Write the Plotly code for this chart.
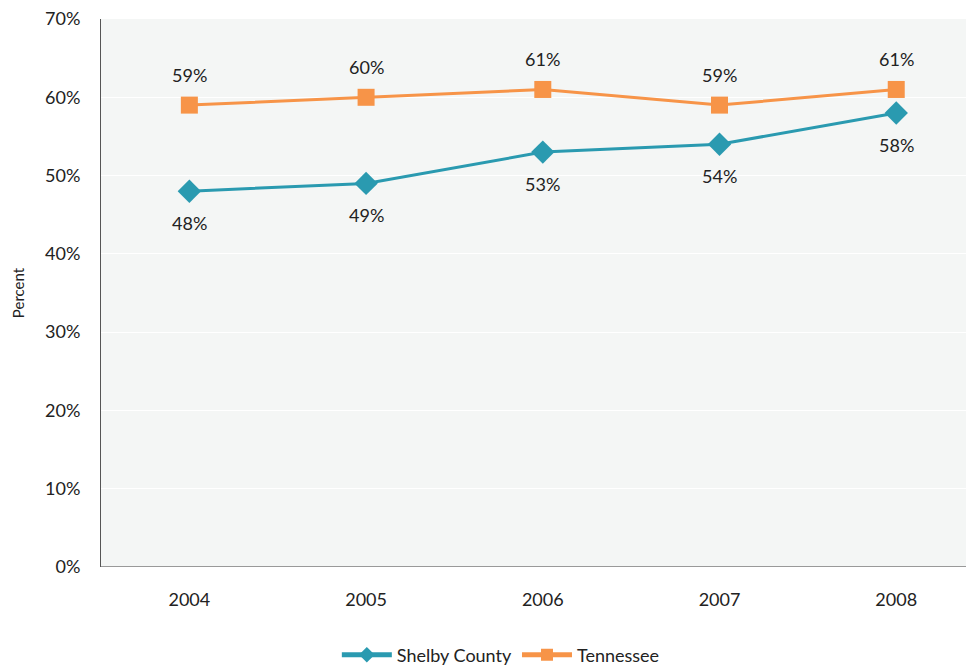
import plotly.graph_objects as go

years = ["2004", "2005", "2006", "2007", "2008"]
shelby = [48, 49, 53, 54, 58]
tennessee = [59, 60, 61, 59, 61]
y_ticks = [0, 10, 20, 30, 40, 50, 60, 70]
y_tick_labels = [f"{v}%" for v in y_ticks]

teal = "#2a9ab0"
orange = "#f79448"
font_family = "Lato, 'Noto Sans', sans-serif"

fig = go.Figure()
fig.add_trace(go.Scatter(
    x=years, y=shelby, name="Shelby County", mode="lines+markers",
    line=dict(color=teal, width=3),
    marker=dict(symbol="diamond", size=18, color=teal),
))
fig.add_trace(go.Scatter(
    x=years, y=tennessee, name="Tennessee", mode="lines+markers",
    line=dict(color=orange, width=3),
    marker=dict(symbol="square", size=17, color=orange),
))

for i, v in enumerate(shelby):
    fig.add_annotation(x=i, y=v, text=f"{v}%", showarrow=False, yshift=-32,
                       font=dict(size=18, color="#222"))
for i, v in enumerate(tennessee):
    fig.add_annotation(x=i, y=v, text=f"{v}%", showarrow=False, yshift=30,
                       font=dict(size=18, color="#222"))

W, H = 966, 659
top, bottom_px = 11, 559
fig.update_layout(
    width=W, height=H,
    margin=dict(l=93, r=0, t=top, b=H - bottom_px, autoexpand=False),
    paper_bgcolor="white", plot_bgcolor="#f4f6f5",
    font=dict(family=font_family, size=18, color="#222"),
    showlegend=True,
    legend=dict(orientation="h", x=0.458, xanchor="center",
                y=-(647 - bottom_px) / (bottom_px - top), yanchor="middle",
                font=dict(size=18), itemsizing="constant", itemwidth=50),
    xaxis=dict(type="category", range=[-0.5, 4.44], showgrid=False,
               showline=False, ticks="", tickfont=dict(size=18),
               ticklabelstandoff=20),
    yaxis=dict(range=[0, 70], tickvals=y_ticks, ticktext=y_tick_labels,
               showgrid=True, gridcolor="white", gridwidth=1,
               showline=True, linecolor="#555", linewidth=1,
               zeroline=False, ticks="", tickfont=dict(size=18),
               ticklabeloverflow="allow", ticklabelstandoff=16,
               title=dict(text="Percent", font=dict(size=15), standoff=16)),
)
fig.add_shape(type="line", xref="paper", yref="y", x0=0, x1=1, y0=0, y1=0,
              line=dict(color="#999", width=2))

fig.write_html("out.html")
